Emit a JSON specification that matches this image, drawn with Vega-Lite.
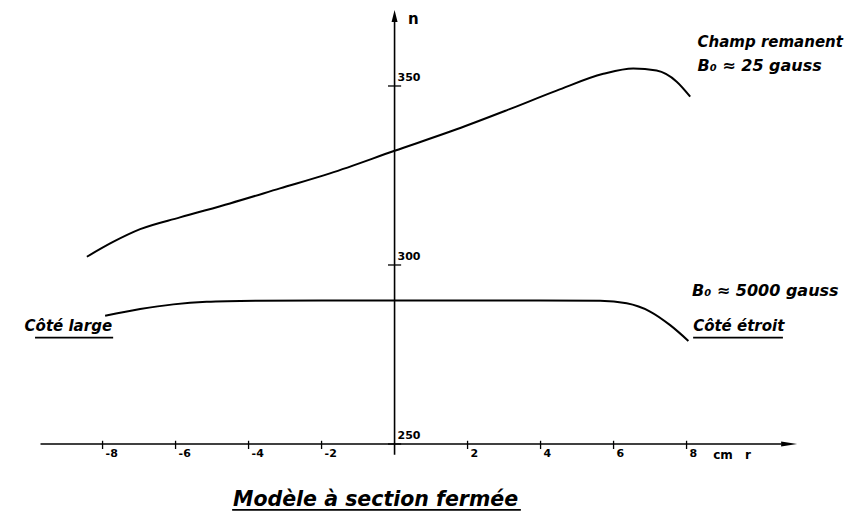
{
  "$schema": "https://vega.github.io/schema/vega-lite/v6.json",
  "width": 853,
  "height": 523,
  "padding": 0,
  "autosize": {"type": "fit", "contains": "padding"},
  "background": "white",
  "config": {"view": {"stroke": null}},
  "datasets": {
    "curves": [
      {"curve": "Champ remanent", "r": -8.43, "n": 302.3},
      {"curve": "Champ remanent", "r": -7.7, "n": 306.5},
      {"curve": "Champ remanent", "r": -6.97, "n": 310.0},
      {"curve": "Champ remanent", "r": -5.88, "n": 313.3},
      {"curve": "Champ remanent", "r": -4.51, "n": 317.2},
      {"curve": "Champ remanent", "r": -3.14, "n": 321.4},
      {"curve": "Champ remanent", "r": -1.77, "n": 325.6},
      {"curve": "Champ remanent", "r": 0.0, "n": 331.9},
      {"curve": "Champ remanent", "r": 1.7, "n": 337.9},
      {"curve": "Champ remanent", "r": 3.07, "n": 343.2},
      {"curve": "Champ remanent", "r": 4.44, "n": 348.7},
      {"curve": "Champ remanent", "r": 5.72, "n": 353.4},
      {"curve": "Champ remanent", "r": 6.54, "n": 354.9},
      {"curve": "Champ remanent", "r": 7.18, "n": 354.3},
      {"curve": "Champ remanent", "r": 7.73, "n": 351.2},
      {"curve": "Champ remanent", "r": 8.1, "n": 347.0},
      {"curve": "B0 5000 gauss", "r": -7.93, "n": 285.8},
      {"curve": "B0 5000 gauss", "r": -6.97, "n": 287.7},
      {"curve": "B0 5000 gauss", "r": -6.06, "n": 289.0},
      {"curve": "B0 5000 gauss", "r": -5.15, "n": 289.7},
      {"curve": "B0 5000 gauss", "r": -3.78, "n": 290.0},
      {"curve": "B0 5000 gauss", "r": -2.0, "n": 290.1},
      {"curve": "B0 5000 gauss", "r": 0.0, "n": 290.1},
      {"curve": "B0 5000 gauss", "r": 2.0, "n": 290.1},
      {"curve": "B0 5000 gauss", "r": 4.0, "n": 290.1},
      {"curve": "B0 5000 gauss", "r": 5.63, "n": 290.0},
      {"curve": "B0 5000 gauss", "r": 6.36, "n": 289.3},
      {"curve": "B0 5000 gauss", "r": 7.0, "n": 287.0},
      {"curve": "B0 5000 gauss", "r": 7.55, "n": 283.2},
      {"curve": "B0 5000 gauss", "r": 8.05, "n": 278.8}
    ],
    "xticks": [
      {"r": -8, "label": "-8"}, {"r": -6, "label": "-6"}, {"r": -4, "label": "-4"}, {"r": -2, "label": "-2"},
      {"r": 2, "label": "2"}, {"r": 4, "label": "4"}, {"r": 6, "label": "6"}, {"r": 8, "label": "8"}
    ],
    "yticks": [
      {"n": 350, "label": "350"}, {"n": 300, "label": "300"}, {"n": 250, "label": "250"}
    ],
    "notesLeft": [
      {"r": 8.3, "n": 362.3, "text": "Champ remanent"},
      {"r": 8.18, "n": 283.0, "text": "Côté étroit"}
    ],
    "notesB": [
      {"r": 8.3, "n": 355.6, "text": "B₀  ≈  25 gauss"},
      {"r": 8.15, "n": 292.7, "text": "B₀  ≈  5000 gauss"}
    ],
    "notesRight": [
      {"r": -7.74, "n": 283.0, "text": "Côté large"}
    ],
    "underlines": [
      {"r1": -9.85, "r2": -7.71, "n": 279.7},
      {"r1": 8.18, "r2": 10.64, "n": 279.7},
      {"r1": -4.45, "r2": 3.46, "n": 231.6}
    ]
  },
  "encoding": {
    "x": {"type": "quantitative", "scale": {"domain": [-10.81, 12.56], "nice": false, "zero": false}, "axis": null},
    "y": {"type": "quantitative", "scale": {"domain": [227.93, 374.02], "nice": false, "zero": false}, "axis": null}
  },
  "layer": [
    {
      "data": {"values": [{"r1": -9.7, "r2": 10.6, "n": 250}]},
      "mark": {"type": "rule", "stroke": "black", "strokeWidth": 1.6},
      "encoding": {"x": {"field": "r1"}, "x2": {"field": "r2"}, "y": {"field": "n"}}
    },
    {
      "data": {"values": [{"r": 0, "n1": 247, "n2": 368}]},
      "mark": {"type": "rule", "stroke": "black", "strokeWidth": 1.6},
      "encoding": {"x": {"field": "r"}, "y": {"field": "n1"}, "y2": {"field": "n2"}}
    },
    {
      "data": {"values": [{"r": 10.81, "n": 250}]},
      "mark": {"type": "point", "shape": "M-1,-0.3L1,0L-1,0.3Z", "size": 256, "filled": true, "color": "black", "opacity": 1},
      "encoding": {"x": {"field": "r"}, "y": {"field": "n"}}
    },
    {
      "data": {"values": [{"r": 0, "n": 369.55}]},
      "mark": {"type": "point", "shape": "M0,-1L0.5,1L-0.5,1Z", "size": 144, "filled": true, "color": "black", "opacity": 1},
      "encoding": {"x": {"field": "r"}, "y": {"field": "n"}}
    },
    {
      "data": {"name": "xticks"},
      "mark": {"type": "rule", "stroke": "black", "strokeWidth": 1.3},
      "encoding": {"x": {"field": "r"}, "y": {"datum": 248.6}, "y2": {"datum": 250.9}}
    },
    {
      "data": {"name": "xticks"},
      "mark": {"type": "text", "align": "left", "baseline": "middle", "dx": 3, "dy": 10, "font": "DejaVu Sans", "fontSize": 11, "fontWeight": "bold", "color": "black"},
      "encoding": {"x": {"field": "r"}, "y": {"datum": 250}, "text": {"field": "label"}}
    },
    {
      "data": {"name": "yticks"},
      "mark": {"type": "rule", "stroke": "black", "strokeWidth": 1.3},
      "encoding": {"x": {"datum": -0.18}, "x2": {"datum": 0.18}, "y": {"field": "n"}}
    },
    {
      "data": {"name": "yticks"},
      "mark": {"type": "text", "align": "left", "baseline": "middle", "dx": 3, "dy": -8, "font": "DejaVu Sans", "fontSize": 11, "fontWeight": "bold", "color": "black"},
      "encoding": {"x": {"datum": 0}, "y": {"field": "n"}, "text": {"field": "label"}}
    },
    {
      "data": {"values": [{"r": 0.37, "n": 368.7, "text": "n"}]},
      "mark": {"type": "text", "align": "left", "baseline": "middle", "font": "DejaVu Sans", "fontSize": 15, "fontWeight": "bold", "color": "black"},
      "encoding": {"x": {"field": "r"}, "y": {"field": "n"}, "text": {"field": "text"}}
    },
    {
      "data": {"values": [{"r": 8.73, "n": 246.9, "text": "cm"}, {"r": 9.6, "n": 246.9, "text": "r"}]},
      "mark": {"type": "text", "align": "left", "baseline": "middle", "font": "DejaVu Sans", "fontSize": 12, "fontWeight": "bold", "color": "black"},
      "encoding": {"x": {"field": "r"}, "y": {"field": "n"}, "text": {"field": "text"}}
    },
    {
      "data": {"name": "curves"},
      "mark": {"type": "line", "stroke": "black", "strokeWidth": 2, "interpolate": "monotone"},
      "encoding": {"x": {"field": "r"}, "y": {"field": "n"}, "detail": {"field": "curve"}}
    },
    {
      "data": {"name": "notesLeft"},
      "mark": {"type": "text", "align": "left", "baseline": "middle", "font": "DejaVu Sans", "fontSize": 15, "fontStyle": "italic", "fontWeight": "bold", "color": "black"},
      "encoding": {"x": {"field": "r"}, "y": {"field": "n"}, "text": {"field": "text"}}
    },
    {
      "data": {"name": "notesB"},
      "mark": {"type": "text", "align": "left", "baseline": "middle", "font": "DejaVu Sans", "fontSize": 16, "fontStyle": "italic", "fontWeight": "bold", "color": "black"},
      "encoding": {"x": {"field": "r"}, "y": {"field": "n"}, "text": {"field": "text"}}
    },
    {
      "data": {"name": "notesRight"},
      "mark": {"type": "text", "align": "right", "baseline": "middle", "font": "DejaVu Sans", "fontSize": 15, "fontStyle": "italic", "fontWeight": "bold", "color": "black"},
      "encoding": {"x": {"field": "r"}, "y": {"field": "n"}, "text": {"field": "text"}}
    },
    {
      "data": {"values": [{"r": -0.52, "n": 234.4, "text": "Modèle à section fermée"}]},
      "mark": {"type": "text", "align": "center", "baseline": "middle", "font": "DejaVu Sans", "fontSize": 20.5, "fontStyle": "italic", "fontWeight": "bold", "color": "black"},
      "encoding": {"x": {"field": "r"}, "y": {"field": "n"}, "text": {"field": "text"}}
    },
    {
      "data": {"name": "underlines"},
      "mark": {"type": "rule", "stroke": "black", "strokeWidth": 1.6},
      "encoding": {"x": {"field": "r1"}, "x2": {"field": "r2"}, "y": {"field": "n"}}
    }
  ]
}
